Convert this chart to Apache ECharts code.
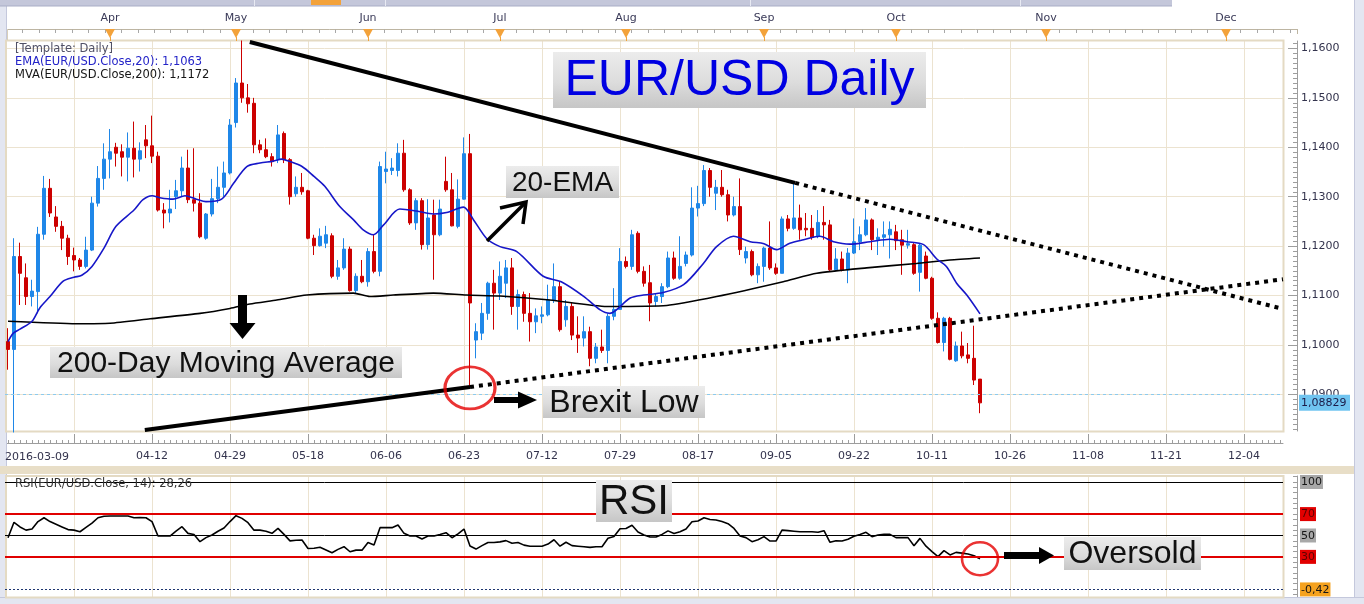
<!DOCTYPE html>
<html><head><meta charset="utf-8">
<script src="https://cdn.jsdelivr.net/npm/echarts@6/dist/echarts.min.js"></script>
<style>html,body{margin:0;padding:0;background:#fff;}#c{width:1364px;height:604px;}</style>
</head><body><div id="c"></div>
<script>
// ---------------- DATA ----------------
const opens = [1.1007,1.0991,1.1179,1.1136,1.1098,1.1108,1.1224,1.1317,1.1259,1.1240,
1.1216,1.1181,1.1172,1.1159,1.1192,1.1287,1.1337,1.1376,1.1400,1.1391,
1.1380,1.1398,1.1376,1.1415,1.1403,1.1382,1.1273,1.1267,1.1300,1.1312,
1.1358,1.1294,1.1287,1.1216,1.1265,1.1296,1.1319,1.1348,1.1450,1.1530,
1.1500,1.1489,1.1405,1.1395,1.1381,1.1375,1.1428,1.1375,1.1306,1.1319,
1.1312,1.1216,1.1201,1.1206,1.1221,1.1139,1.1156,1.1194,1.1110,1.1139,
1.1128,1.1189,1.1149,1.1351,1.1353,1.1353,1.1388,1.1314,1.1247,1.1292,
1.1203,1.1263,1.1223,1.1331,1.1314,1.1240,1.1295,1.1387,1.1010,1.1024,
1.1064,1.1125,1.1105,1.1125,1.1156,1.1078,1.1102,1.1064,1.1047,1.1058,
1.1061,1.1091,1.1118,1.1051,1.1078,1.1020,1.1014,1.1027,1.0973,1.0996,
1.0989,1.1058,1.1072,1.1169,1.1159,1.1226,1.1149,1.1126,1.1088,1.1098,
1.1118,1.1176,1.1135,1.1165,1.1182,1.1277,1.1286,1.1353,1.1307,1.1319,
1.1304,1.1263,1.1280,1.1176,1.1189,1.1142,1.1159,1.1196,1.1156,1.1145,
1.1255,1.1236,1.1257,1.1236,1.1236,1.1220,1.1248,1.1243,1.1152,1.1174,
1.1152,1.1186,1.1209,1.1223,1.1253,1.1213,1.1218,1.1223,1.1229,1.1213,
1.1202,1.1203,1.1147,1.1180,1.1135,1.1054,1.1005,1.1054,1.0968,1.0998,
1.0980,1.0973,1.0931];
const highs = [1.1034,1.1216,1.1207,1.1165,1.1132,1.1239,1.1342,1.1336,1.1281,1.1251,
1.1223,1.1197,1.1176,1.1219,1.1300,1.1362,1.1408,1.1437,1.1409,1.1406,
1.1430,1.1452,1.1410,1.1445,1.1464,1.1391,1.1287,1.1314,1.1334,1.1381,
1.1395,1.1398,1.1307,1.1267,1.1336,1.1361,1.1371,1.1457,1.1540,1.1616,
1.1528,1.1500,1.1415,1.1418,1.1388,1.1445,1.1432,1.1378,1.1341,1.1348,
1.1314,1.1223,1.1236,1.1241,1.1226,1.1172,1.1216,1.1199,1.1145,1.1172,
1.1196,1.1223,1.1371,1.1391,1.1378,1.1408,1.1415,1.1317,1.1297,1.1297,
1.1295,1.1294,1.1294,1.1381,1.1348,1.1335,1.1420,1.1427,1.1044,1.1085,
1.1128,1.1152,1.1169,1.1172,1.1176,1.1112,1.1108,1.1105,1.1074,1.1078,
1.1122,1.1165,1.1128,1.1091,1.1085,1.1058,1.1058,1.1037,1.1004,1.1031,
1.1064,1.1115,1.1196,1.1179,1.1233,1.1230,1.1159,1.1162,1.1105,1.1125,
1.1189,1.1189,1.1220,1.1189,1.1319,1.1322,1.1364,1.1358,1.1334,1.1354,
1.1314,1.1300,1.1337,1.1199,1.1193,1.1165,1.1199,1.1250,1.1165,1.1260,
1.1263,1.1331,1.1284,1.1267,1.1263,1.1273,1.1281,1.1253,1.1196,1.1189,
1.1196,1.1256,1.1240,1.1277,1.1256,1.1236,1.1250,1.1250,1.1243,1.1233,
1.1233,1.1206,1.1206,1.1189,1.1138,1.1066,1.1057,1.1057,1.1007,1.1027,
1.1004,1.1039,1.0931];
const lows = [1.0950,1.0823,1.1081,1.1081,1.1078,1.1064,1.1213,1.1259,1.1229,1.1192,
1.1162,1.1149,1.1152,1.1155,1.1190,1.1280,1.1314,1.1337,1.1361,1.1341,
1.1331,1.1339,1.1351,1.1378,1.1368,1.1270,1.1236,1.1248,1.1275,1.1300,
1.1287,1.1270,1.1216,1.1213,1.1260,1.1287,1.1300,1.1345,1.1440,1.1490,
1.1470,1.1388,1.1388,1.1378,1.1361,1.1368,1.1368,1.1284,1.1300,1.1304,
1.1214,1.1182,1.1199,1.1196,1.1135,1.1132,1.1152,1.1108,1.1105,1.1125,
1.1118,1.1145,1.1139,1.1327,1.1344,1.1341,1.1310,1.1243,1.1233,1.1193,
1.1193,1.1132,1.1220,1.1310,1.1240,1.1236,1.1294,1.0913,1.0973,1.1010,
1.1051,1.1031,1.1091,1.1095,1.1061,1.1031,1.1047,1.1007,1.1024,1.1044,
1.1058,1.1085,1.1027,1.1037,1.1010,1.0984,1.0997,1.0957,1.0963,1.0984,
1.0963,1.1050,1.1071,1.1155,1.1152,1.1145,1.1118,1.1048,1.1078,1.1085,
1.1115,1.1132,1.1132,1.1159,1.1179,1.1260,1.1281,1.1300,1.1273,1.1300,
1.1250,1.1260,1.1182,1.1165,1.1139,1.1125,1.1128,1.1152,1.1142,1.1145,
1.1230,1.1233,1.1213,1.1220,1.1213,1.1216,1.1213,1.1150,1.1149,1.1149,
1.1125,1.1184,1.1192,1.1220,1.1192,1.1182,1.1199,1.1175,1.1192,1.1142,
1.1195,1.1142,1.1108,1.1133,1.1051,1.1003,1.0987,1.0969,1.0966,1.0973,
1.0963,1.0919,1.0862];
const closes = [1.0991,1.1179,1.1145,1.1098,1.1109,1.1224,1.1317,1.1267,1.1240,1.1216,
1.1179,1.1172,1.1159,1.1192,1.1287,1.1337,1.1376,1.1391,1.1388,1.1380,
1.1398,1.1376,1.1393,1.1403,1.1382,1.1273,1.1267,1.1275,1.1312,1.1358,
1.1294,1.1287,1.1219,1.1265,1.1296,1.1319,1.1348,1.1445,1.1530,1.1500,
1.1488,1.1405,1.1395,1.1381,1.1371,1.1425,1.1375,1.1300,1.1319,1.1310,
1.1216,1.1201,1.1220,1.1223,1.1139,1.1156,1.1194,1.1110,1.1139,1.1128,
1.1189,1.1149,1.1361,1.1356,1.1358,1.1388,1.1314,1.1247,1.1292,1.1203,
1.1257,1.1223,1.1275,1.1314,1.1241,1.1295,1.1387,1.1085,1.1027,1.1064,
1.1125,1.1105,1.1139,1.1156,1.1078,1.1102,1.1064,1.1047,1.1059,1.1061,
1.1091,1.1118,1.1031,1.1078,1.1020,1.1014,1.1027,1.0973,1.0996,1.0989,
1.1058,1.1072,1.1169,1.1159,1.1223,1.1149,1.1125,1.1085,1.1098,1.1118,
1.1176,1.1135,1.1159,1.1182,1.1277,1.1286,1.1353,1.1319,1.1319,1.1304,
1.1263,1.1280,1.1193,1.1189,1.1142,1.1159,1.1196,1.1156,1.1145,1.1255,
1.1236,1.1257,1.1233,1.1233,1.1218,1.1248,1.1243,1.1152,1.1174,1.1152,
1.1186,1.1209,1.1223,1.1253,1.1213,1.1218,1.1223,1.1234,1.1211,1.1202,
1.1205,1.1145,1.1202,1.1135,1.1054,1.1005,1.1054,1.0971,1.0998,1.0978,
1.0973,1.0929,1.08829];

// 20-EMA and 200-day MA read as [slot, value]
const ema20 = [[0,1.1007],[0.9,1.1024],[2,1.1032],[4,1.1048],[5.3,1.1075],[7,1.1098],[9.2,1.1129],[11,1.1137],[12.3,1.1141],[14,1.1159],[16,1.1196],[18,1.1240],[21,1.1273],[22.5,1.1294],[24,1.1302],[25.3,1.1298],[27.5,1.1295],[29.5,1.1302],[31.4,1.1295],[33,1.1290],[35.6,1.1295],[37.6,1.1327],[39.8,1.1361],[42,1.1368],[44.2,1.1372],[45.6,1.1376],[47,1.1371],[49,1.1361],[51,1.1341],[52.8,1.1321],[55.3,1.1280],[57.6,1.1253],[59.2,1.1233],[60.9,1.1223],[62.6,1.1243],[65.3,1.1275],[68.1,1.1271],[70.9,1.1265],[73.1,1.1268],[75.9,1.1279],[77.6,1.1253],[79.8,1.1215],[82,1.1199],[84.8,1.1189],[89.2,1.1139],[92.2,1.1128],[96,1.1098],[98.7,1.1071],[100.3,1.1064],[101.4,1.1071],[103.7,1.1095],[105.9,1.1101],[109.2,1.1106],[112.6,1.1122],[115.9,1.1165],[118.1,1.1199],[120.9,1.1220],[123.7,1.1209],[126,1.1205],[128.1,1.1193],[130.3,1.1206],[132.6,1.1213],[135.3,1.1220],[137.6,1.1209],[140.3,1.1204],[143.7,1.1209],[147,1.1214],[149.8,1.1209],[152.6,1.1203],[154.8,1.1174],[156.4,1.1159],[158.1,1.1125],[159.8,1.1101],[162,1.1063]];
const ma200 = [[0,1.1048],[11.4,1.1043],[17,1.1044],[23.7,1.1053],[32,1.1064],[37,1.1074],[40.3,1.1083],[44.8,1.1091],[49.8,1.1101],[57.6,1.1105],[60.3,1.1098],[64.2,1.1101],[70.9,1.1105],[76.4,1.1101],[82,1.1099],[90.3,1.1091],[99.8,1.1078],[109.8,1.1080],[118.1,1.1098],[129.2,1.1128],[134.8,1.1145],[143.1,1.1156],[151.4,1.1165],[157,1.1172],[162,1.1176]];

const rsi14 = [47.9,62.3,58,55,56,63,66.6,63,60.5,58,
55.5,55,53.5,57.5,61.5,66.6,68,68.2,68.2,68.2,
68.2,66.6,66.8,66.6,63,49.5,49.5,49.5,54,58.2,
52,51,44.2,48,50.5,54,57,63,68.5,66,
62,55,55,54,52,56.6,51,45,45.5,45.7,
37.8,38,39,36.5,33.9,37,39.5,34.8,36.3,36.3,
43.4,41.2,57.3,57.3,57.3,59.8,52,49.5,49.5,46.7,
49.5,49.5,51,52.6,47.9,51.5,56,40.1,37.3,40.5,
43.4,43.4,44,45.2,42.7,43.4,41,39.9,39.9,40,
42,46,40,43.7,40.5,40,39.5,38.9,39.5,39.5,
47.4,49,56.3,56.5,59.5,53.3,50.5,48.6,48.6,51,
54.3,51.8,53.5,56,62.8,63.5,66.6,65,64.5,63,
61,56.6,49.5,48,44.2,46,48.9,44.8,44.8,55,
54.5,54,53.5,53.5,53.5,53,54.5,43.6,45,44.8,
46.5,49.2,51,53,48.9,50.5,51,51,48,48,
48,40.4,47.3,40,35,30.2,35.8,31.8,34.2,33.5,
32.7,31.1,28.26];

// drawn trendlines [slot, price]
const upperSolid = [[40.3,1.1613],[131.2,1.1328]];
const upperDotted = [[131.2,1.1328],[212.5,1.1073]];
const lowerSolid = [[22.8,1.0828],[77,1.0915]];
const lowerDotted = [[77,1.0915],[212.5,1.1133]];
const brexitLow = [77,1.0913];
const lastPrice = 1.08829;
const lastPriceText = '1,08829';
const rsiLast = [162,28.26];

// axes
const slotCount = 213;
const xTickIdx = [0,24,37,50,63,76,89,102,115,128,141,154,167,180,193,206];
const xTickText = ['2016-03-09','04-12','04-29','05-18','06-06','06-23','07-12','07-29','08-17','09-05','09-22','10-11','10-26','11-08','11-21','12-04'];
const vGridIdx = [11,24,37,50,63,76,89,102,115,128,141,154,167,180,193,206];
const monthIdx = [17,38,60,82,103,126,148,173,203];
const monthText = ['Apr','May','Jun','Jul','Aug','Sep','Oct','Nov','Dec'];
const priceTicks = [1.09,1.10,1.11,1.12,1.13,1.14,1.15,1.16];
const rsiLevels = [100,70,50,30,-0.42];
const rsiLevelText = ['100','70','50','30','-0,42'];
const legendLines = ['[Template: Daily]','EMA(EUR/USD.Close,20): 1,1063','MVA(EUR/USD.Close,200): 1,1172'];
const rsiTitle = 'RSI(EUR/USD.Close, 14): 28,26';

// ---------------- CHART ----------------
const categories = Array.from({length: slotCount}, (_, i) => String(i));
const minorPriceTicks = []; for (let k = 1083; k <= 1161; k++) minorPriceTicks.push(k / 1000);
const rsiMinor = []; for (let k = -5; k <= 105; k += 5) rsiMinor.push(k);
const candleData = opens.map((o, i) => [o, closes[i], lows[i], highs[i]]);
const F = 'DejaVu Sans';
const gridColor = '#ece3d0';
const axisGray = '#9d9d9d';
const fmtPrice = v => v.toFixed(4).replace('.', ',');

const chart = echarts.init(document.getElementById('c'), null, {renderer: 'canvas'});
const option = {
  animation: false,
  backgroundColor: '#ffffff',
  textStyle: {fontFamily: F},
  grid: [
    {left: 5, top: 41, width: 1278, height: 390},
    {left: 5, top: 476, width: 1278, height: 121}
  ],
  xAxis: [
    {type: 'category', gridIndex: 0, data: categories, boundaryGap: true, position: 'bottom', offset: 12,
      axisLine: {show: true, onZero: false, lineStyle: {color: axisGray}},
      axisTick: {show: true, inside: true, alignWithLabel: true, interval: 0, length: 3, lineStyle: {color: axisGray}},
      axisLabel: {interval: (i) => xTickIdx.indexOf(i) > 0, formatter: (v, i) => xTickText[xTickIdx.indexOf(i)] || '',
        color: '#33334d', fontSize: 11, fontFamily: F, margin: 8},
      splitLine: {show: false}},
    {type: 'value', gridIndex: 0, min: -0.5, max: 212.5, position: 'bottom', offset: 12,
      axisLine: {show: false, onZero: false},
      axisTick: {show: true, inside: true, length: 9, customValues: vGridIdx, lineStyle: {color: axisGray}},
      axisLabel: {show: false},
      splitLine: {show: true, lineStyle: {color: gridColor, width: 1}}},
    {type: 'category', gridIndex: 1, data: categories, boundaryGap: true,
      axisLine: {show: false, onZero: false}, axisTick: {show: false}, axisLabel: {show: false}, splitLine: {show: false}},
    {type: 'value', gridIndex: 1, min: -0.5, max: 212.5,
      axisLine: {show: false, onZero: false}, axisTick: {show: false, customValues: vGridIdx}, axisLabel: {show: false},
      splitLine: {show: true, lineStyle: {color: gridColor, width: 1}}}
  ],
  yAxis: [
    {type: 'value', gridIndex: 0, min: 1.0826, max: 1.1615, position: 'right', offset: 14,
      axisLine: {show: true, onZero: false, lineStyle: {color: axisGray}},
      axisTick: {show: true, inside: true, length: 9, customValues: priceTicks, lineStyle: {color: axisGray}},
      axisLabel: {customValues: priceTicks, formatter: fmtPrice, color: '#33334d', fontSize: 11, fontFamily: F, margin: 4},
      splitLine: {show: true, lineStyle: {color: gridColor, width: 1}}},
    {type: 'value', gridIndex: 0, min: 1.0826, max: 1.1615, position: 'right', offset: 14,
      axisLine: {show: false, onZero: false},
      axisTick: {show: true, inside: true, length: 4, customValues: minorPriceTicks, lineStyle: {color: axisGray}},
      axisLabel: {show: false}, splitLine: {show: false}},
    {type: 'value', gridIndex: 1, min: -7.5, max: 105.6, position: 'right', offset: 14,
      axisLine: {show: true, onZero: false, lineStyle: {color: axisGray}},
      axisTick: {show: true, inside: true, length: 4, customValues: rsiMinor, lineStyle: {color: axisGray}},
      axisLabel: {customValues: rsiLevels, margin: 3, fontSize: 11, fontFamily: F,
        formatter: v => {
          const k = rsiLevels.indexOf(v); const t = rsiLevelText[k];
          const st = (v === 100 || v === 50) ? 'g' : (v === 70 || v === 30) ? 'r' : 'o';
          return '{' + st + '|' + t + '}';
        },
        rich: {
          g: {backgroundColor: '#a8a8a8', color: '#151515', padding: [2, 1, 1, 1], fontSize: 11, fontFamily: F},
          r: {backgroundColor: '#e20000', color: '#5c0000', padding: [2, 1, 1, 1], fontSize: 11, fontFamily: F},
          o: {backgroundColor: '#f5a21f', color: '#151515', padding: [2, 1, 1, 1], fontSize: 11, fontFamily: F}
        }},
      splitLine: {show: false}}
  ],
  series: [
    {type: 'candlestick', xAxisIndex: 0, yAxisIndex: 0, data: candleData, barWidth: 4, clip: true, z: 3,
      itemStyle: {color: '#1f87e8', color0: '#cc0000', borderColor: '#1f87e8', borderColor0: '#cc0000', borderWidth: 1},
      markLine: {silent: true, symbol: ['none', 'none'], label: {show: false},
        lineStyle: {color: '#8ccaee', type: [3, 3], width: 1}, data: [{yAxis: lastPrice}]}},
    {type: 'line', xAxisIndex: 1, yAxisIndex: 0, data: ma200, showSymbol: false, smooth: 0.2, z: 4,
      lineStyle: {color: '#000000', width: 1.6}},
    {type: 'line', xAxisIndex: 1, yAxisIndex: 0, data: ema20, showSymbol: false, smooth: 0.3, z: 4,
      lineStyle: {color: '#1616c8', width: 1.6}},
    {type: 'line', xAxisIndex: 1, yAxisIndex: 0, data: upperSolid, showSymbol: false, z: 5,
      lineStyle: {color: '#000', width: 4}},
    {type: 'line', xAxisIndex: 1, yAxisIndex: 0, data: upperDotted, showSymbol: false, z: 5,
      lineStyle: {color: '#000', width: 4, type: [4, 5]}},
    {type: 'line', xAxisIndex: 1, yAxisIndex: 0, data: lowerSolid, showSymbol: false, z: 5,
      lineStyle: {color: '#000', width: 4}},
    {type: 'line', xAxisIndex: 1, yAxisIndex: 0, data: lowerDotted, showSymbol: false, z: 5,
      lineStyle: {color: '#000', width: 4, type: [4, 5]}},
    {type: 'scatter', xAxisIndex: 1, yAxisIndex: 0, data: [brexitLow], symbol: 'circle', symbolSize: [50, 42], z: 6,
      itemStyle: {color: 'rgba(0,0,0,0)', borderColor: '#e50000', borderWidth: 3}},
    {type: 'line', xAxisIndex: 2, yAxisIndex: 2, data: rsi14, showSymbol: false, z: 4,
      lineStyle: {color: '#000', width: 1.6},
      markLine: {silent: true, symbol: ['none', 'none'], label: {show: false}, data: [
        {yAxis: 100, lineStyle: {color: '#000', width: 1, type: 'solid'}},
        {yAxis: 70, lineStyle: {color: '#e00000', width: 2, type: 'solid'}},
        {yAxis: 50, lineStyle: {color: '#000', width: 1, type: 'solid'}},
        {yAxis: 30, lineStyle: {color: '#e00000', width: 2, type: 'solid'}},
        {yAxis: -0.42, lineStyle: {color: '#1d3570', width: 1, type: [2, 2]}}
      ]}},
    {type: 'scatter', xAxisIndex: 3, yAxisIndex: 2, data: [rsiLast], symbol: 'circle', symbolSize: [36, 33], z: 6,
      itemStyle: {color: 'rgba(0,0,0,0)', borderColor: '#e50000', borderWidth: 2.5}}
  ]
};
chart.setOption(option);

// ---------------- DECORATION ----------------
const xpx = i => chart.convertToPixel({xAxisIndex: 1}, i);
const ypx = v => chart.convertToPixel({yAxisIndex: 0}, v);
const gfx = [];
const R = (x, y, w, h, fill, z) => gfx.push({type: 'rect', silent: true, z: z || 1, shape: {x, y, width: w, height: h}, style: {fill}});
const L = (x1, y1, x2, y2, stroke, lw, z) => gfx.push({type: 'line', silent: true, z: z || 1, shape: {x1, y1, x2, y2}, style: {stroke, lineWidth: lw || 1}});
const T = (x, y, text, font, fill, align, z) => gfx.push({type: 'text', silent: true, z: z || 12, x, y,
  style: {text, font, fill, align: align || 'left', verticalAlign: 'middle'}});

// frame
R(0, 0, 7, 604, '#e3e6f1'); L(6.5, 6, 6.5, 604, '#c4c8dc');
R(1354, 0, 10, 604, '#e3e6f1'); L(1354.5, 0, 1354.5, 604, '#c4c8dc');
R(0, 598, 1364, 6, '#e3e6f1'); L(0, 597.5, 1364, 597.5, '#c4c8dc');
R(0, 0, 1172, 6, '#c4c7da'); L(0, 6, 1172, 6, '#a9adc6');
R(311, 0, 30, 5, '#f3a23a');
[254, 385, 750, 1020].forEach(x => L(x + 0.5, 0, x + 0.5, 6, '#e8eaf3'));
R(0, 466, 1354, 8, '#e8dec7');
gfx.push({type: 'rect', silent: true, z: 1, shape: {x: 6, y: 40.5, width: 1277.5, height: 391}, style: {fill: null, stroke: '#e4dac3', lineWidth: 2}});
gfx.push({type: 'rect', silent: true, z: 1, shape: {x: 6, y: 476, width: 1277.5, height: 121.5}, style: {fill: null, stroke: '#e4dac3', lineWidth: 2}});

// top month ruler
L(7, 29.5, 1298, 29.5, '#bdb5a2'); L(7.5, 29, 7.5, 40, '#d8cfba'); L(1297.5, 29, 1297.5, 34, '#bdb5a2');
const base = xpx(60), step = 16.46;
for (let x = base; x < 1297; x += step) L(Math.round(x) + 0.5, 29.5, Math.round(x) + 0.5, 33, '#a8a8a8');
for (let x = base - step; x > 8; x -= step) L(Math.round(x) + 0.5, 29.5, Math.round(x) + 0.5, 33, '#a8a8a8');
monthIdx.forEach((idx, k) => {
  const x = xpx(idx);
  T(x, 18, monthText[k], '11px "DejaVu Sans"', '#3a3a58', 'center');
  gfx.push({type: 'polygon', silent: true, z: 3, shape: {points: [[x - 5, 29], [x + 5, 29], [x, 38]]}, style: {fill: '#f3a23a'}});
  L(Math.round(x) + 0.5, 37, Math.round(x) + 0.5, 41, '#f3a23a', 1, 3);
});

// x label for first slot
T(xpx(0) - 3, 457.5, xTickText[0], '11px "DejaVu Sans"', '#33334d', 'left');

// legend texts
T(15, 49.5, legendLines[0], '11.5px "DejaVu Sans"', '#505066');
T(15, 62, legendLines[1], '11.5px "DejaVu Sans"', '#2424c8');
T(15, 75, legendLines[2], '11.5px "DejaVu Sans"', '#151515');
T(15, 484, rsiTitle, '11.5px "DejaVu Sans"', '#333333');

// last price tag
const yp = ypx(lastPrice);
R(1299, yp - 8, 51, 16, '#70c4f0', 12);
T(1301, yp + 0.5, lastPriceText, '11px "DejaVu Sans"', '#1b1b48', 'left', 13);

// annotation boxes
function box(x, y, w, h, txt, size, color) {
  gfx.push({type: 'rect', silent: true, z: 20, shape: {x, y, width: w, height: h},
    style: {fill: new echarts.graphic.LinearGradient(0, 0, 0, 1, [{offset: 0, color: '#ececec'}, {offset: 0.55, color: '#dcdcdc'}, {offset: 1, color: '#c6c6c6'}])}});
  gfx.push({type: 'text', silent: true, z: 21, x: x + w / 2, y: y + h / 2 + 1,
    style: {text: txt, fill: color, font: size + 'px "Liberation Sans"', align: 'center', verticalAlign: 'middle'}});
}
box(553, 52, 373, 56, 'EUR/USD Daily', 50, '#0000e2');
box(506, 166, 113, 32, '20-EMA', 28, '#111');
box(50, 347, 352, 31, '200-Day Moving Average', 30, '#111');
box(543, 386, 162, 32, 'Brexit Low', 32, '#111');
box(596, 480, 76, 42, 'RSI', 42, '#111');
box(1064, 537, 137, 33, 'Oversold', 32, '#111');

// arrows
R(238, 295, 9, 30, '#000', 22);
gfx.push({type: 'polygon', silent: true, z: 22, shape: {points: [[229.5, 323], [255.5, 323], [242.5, 339]]}, style: {fill: '#000'}});
L(487, 241, 524, 204, '#000', 3.5, 22);
gfx.push({type: 'polyline', silent: true, z: 22, shape: {points: [[500, 208], [526, 202], [523, 224]]}, style: {stroke: '#000', lineWidth: 3.5, fill: null}});
R(494, 397, 26, 6, '#000', 22);
gfx.push({type: 'polygon', silent: true, z: 22, shape: {points: [[518, 391.5], [518, 408.5], [537, 400]]}, style: {fill: '#000'}});
R(1004, 552, 36, 7, '#000', 22);
gfx.push({type: 'polygon', silent: true, z: 22, shape: {points: [[1039, 547], [1039, 564], [1054, 555.5]]}, style: {fill: '#000'}});

chart.setOption({graphic: {elements: gfx}});
</script>
</body></html>
